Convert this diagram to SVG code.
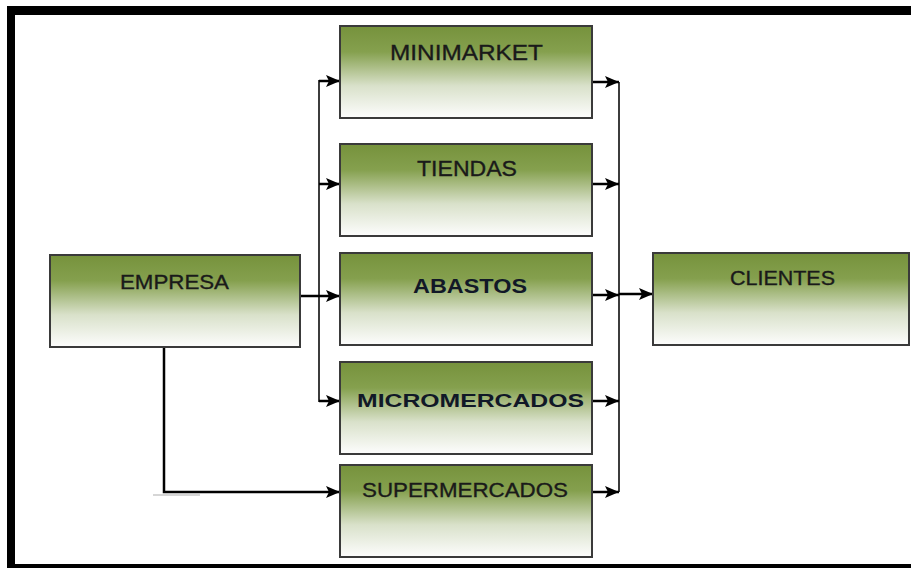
<svg xmlns="http://www.w3.org/2000/svg" width="911" height="568" viewBox="0 0 911 568">
<style>
.box{fill:url(#g);stroke:#3a3a3a;stroke-width:2}
.lbl{font-family:"Liberation Sans","DejaVu Sans",sans-serif;fill:#1a1a1a;stroke:#1a1a1a;stroke-width:0.35}
.b{font-weight:bold;fill:#111827;stroke:none}
.trunk{fill:none;stroke:#3c3c3c;stroke-width:2}
.stub{fill:none;stroke:#000;stroke-width:2.5}
</style>
<defs>
<linearGradient id="g" x1="0" y1="0" x2="0" y2="1">
<stop offset="0" stop-color="#76923c"/>
<stop offset="0.28" stop-color="#85a04e"/>
<stop offset="0.65" stop-color="#d9e1ca"/>
<stop offset="1" stop-color="#fdfdfd"/>
</linearGradient>
<marker id="ah" markerWidth="14" markerHeight="12" refX="14" refY="6" orient="auto" markerUnits="userSpaceOnUse">
<path d="M0,0 L14,6 L0,12 L3,6 Z" fill="#000"/>
</marker>
</defs>
<rect x="0" y="0" width="911" height="568" fill="#fff"/>
<rect x="7" y="6" width="904" height="9" fill="#000"/>
<rect x="7" y="6" width="8" height="562" fill="#000"/>
<rect x="7" y="564" width="904" height="4" fill="#000"/>

<g id="connectors">
<path class="trunk" d="M340,81 H319 V401 H340"/>
<path class="stub" d="M319,81 H340" marker-end="url(#ah)"/>
<path class="stub" d="M319,184 H340" stroke-width="2" marker-end="url(#ah)"/>
<path class="stub" d="M319,401 H340" stroke-width="2" marker-end="url(#ah)"/>
<path class="stub" d="M298,296 H340" stroke-width="1.5" marker-end="url(#ah)"/>
<path class="stub" d="M164,347 V492 H340" stroke-width="3" marker-end="url(#ah)"/>
<path d="M153,495 H200" stroke="#c8c8c8" stroke-width="1.5"/>
<path class="trunk" d="M619,82 V492"/>
<path class="stub" d="M592,82 H619" marker-end="url(#ah)"/>
<path class="stub" d="M592,184 H619" marker-end="url(#ah)"/>
<path class="stub" d="M592,295 H619" marker-end="url(#ah)"/>
<path class="stub" d="M592,401 H619" marker-end="url(#ah)"/>
<path class="stub" d="M592,492 H619" marker-end="url(#ah)"/>
<path class="stub" d="M619,294 H653" marker-end="url(#ah)"/>
</g>

<g id="empresa">
<rect class="box" x="50" y="255" width="250" height="92"/>
<text class="lbl" x="120" y="289" font-size="21" textLength="109" lengthAdjust="spacingAndGlyphs">EMPRESA</text>
</g>
<g id="minimarket">
<rect class="box" x="340" y="26" width="252" height="92"/>
<text class="lbl" x="390" y="60" font-size="22" textLength="153" lengthAdjust="spacingAndGlyphs">MINIMARKET</text>
</g>
<g id="tiendas">
<rect class="box" x="340" y="144" width="252" height="92"/>
<text class="lbl" x="417" y="176" font-size="22" textLength="100" lengthAdjust="spacingAndGlyphs">TIENDAS</text>
</g>
<g id="abastos">
<rect class="box" x="340" y="253" width="252" height="92"/>
<text class="lbl b" x="413" y="293" font-size="20" textLength="114" lengthAdjust="spacingAndGlyphs">ABASTOS</text>
</g>
<g id="micromercados">
<rect class="box" x="340" y="362" width="252" height="92"/>
<text class="lbl b" x="357" y="407" font-size="19" textLength="227" lengthAdjust="spacingAndGlyphs">MICROMERCADOS</text>
</g>
<g id="supermercados">
<rect class="box" x="340" y="465" width="252" height="92"/>
<text class="lbl" x="362" y="497" font-size="21" textLength="206" lengthAdjust="spacingAndGlyphs">SUPERMERCADOS</text>
</g>
<g id="clientes">
<rect class="box" x="653" y="253" width="256" height="92"/>
<text class="lbl" x="730" y="285" font-size="20" textLength="105" lengthAdjust="spacingAndGlyphs">CLIENTES</text>
</g>
</svg>
